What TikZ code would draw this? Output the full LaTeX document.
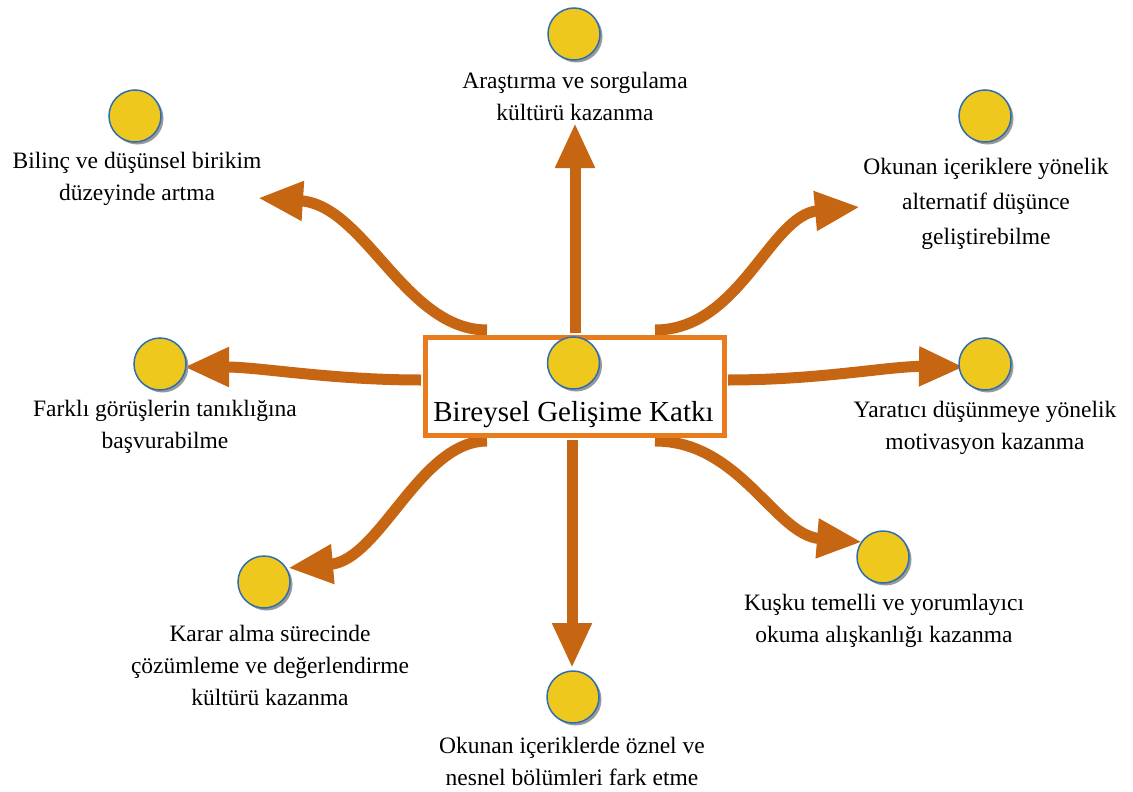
\documentclass[tikz,border=0pt]{standalone}
\usepackage{fontspec}
\setmainfont{LiberationSerif}[Extension=.ttf, UprightFont=*-Regular, BoldFont=*-Bold]
\usetikzlibrary{arrows.meta,calc}
\definecolor{arrowc}{RGB}{198,101,18}
\definecolor{boxc}{RGB}{232,123,30}
\definecolor{dotfill}{RGB}{238,200,28}
\definecolor{dotline}{RGB}{46,109,180}
\tikzset{
  dot/.style={circle, minimum size=52pt, inner sep=0pt, fill=dotfill, draw=dotline, line width=1.5pt},
  dotshadow/.style={circle, minimum size=52pt, inner sep=0pt, fill=black!40},
  lbl/.style={align=center, inner sep=0pt, font=\fontsize{23.5}{32}\selectfont},
  bigarrow/.style={draw=arrowc, line width=11pt, -{Triangle[length=45pt,width=37pt]}},
  mainbox/.style={draw=boxc, line width=5pt, fill=white, minimum width=298.5pt, minimum height=98.5pt, inner sep=0pt}
}
\newcommand{\mydot}[2]{%
  \node[dotshadow] at ($(#2)+(2.5,2.5)$) {};
  \node[dot] (#1) at (#2) {};}
\begin{document}
\begin{tikzpicture}[x=1pt,y=-1pt]
\useasboundingbox (0,0) rectangle (1133,792);
% central box
\node[mainbox] (box) at (574.75,386.25) {};
% coordinates for arrow ends
\coordinate (ulS) at (487,330);
\coordinate (ulE) at (258,198);
\coordinate (urS) at (655,330);
\coordinate (urE) at (860,207);
\coordinate (lS) at (421,380);
\coordinate (lE) at (184,367);
\coordinate (rS) at (728,380);
\coordinate (rE) at (964,367);
\coordinate (llS) at (487,441);
\coordinate (llE) at (288,568);
\coordinate (lrS) at (655,441);
\coordinate (lrE) at (862,542);
\coordinate (uE) at (575,123);
\coordinate (dE) at (572,668);
% arrows
\draw[bigarrow] (575,333) -- (uE);
\draw[bigarrow] (572,440) -- (dE);
\draw[bigarrow] (ulS) .. controls (405,330) and (365,205) .. (ulE);
\draw[bigarrow] (urS) .. controls (740,330) and (770,215) .. (urE);
\draw[bigarrow] (lS) .. controls (330,380) and (260,367) .. (lE);
\draw[bigarrow] (rS) .. controls (820,380) and (890,366) .. (rE);
\draw[bigarrow] (llS) .. controls (420,441) and (380,560) .. (llE);
\draw[bigarrow] (lrS) .. controls (740,441) and (775,535) .. (lrE);
% box redrawn on top
\node[mainbox] (box2) at (574.75,386.25) {};
\mydot{cc}{573.5,363}
\node[inner sep=0pt, anchor=base, font=\fontsize{29}{34}\selectfont] (title) at (573.5,421.5) {Bireysel Gelişime Katkı};
% circles
\mydot{c1}{574,34}
\mydot{c2}{135,116}
\mydot{c3}{985,116}
\mydot{c4}{160,364}
\mydot{c5}{985,364}
\mydot{c6}{264,582}
\mydot{c7}{883,557}
\mydot{c8}{573,697}
% labels
\node[lbl] (l1) at (575,96) {Araştırma ve sorgulama\\kültürü kazanma};
\node[lbl] (l2) at (137,179) {Bilinç ve düşünsel birikim\\düzeyinde artma};
\node[lbl, font=\fontsize{23.5}{35}\selectfont] (l3) at (986,204) {Okunan içeriklere yönelik\\alternatif düşünce\\geliştirebilme};
\node[lbl] (l4) at (165,427) {Farklı görüşlerin tanıklığına\\başvurabilme};
\node[lbl] (l5) at (985,428) {Yaratıcı düşünmeye yönelik\\motivasyon kazanma};
\node[lbl] (l6) at (270,665) {Karar alma sürecinde\\çözümleme ve değerlendirme\\kültürü kazanma};
\node[lbl] (l7) at (884,621) {Kuşku temelli ve yorumlayıcı\\okuma alışkanlığı kazanma};
\node[lbl] (l8) at (572,761) {Okunan içeriklerde öznel ve\\nesnel bölümleri fark etme};
\end{tikzpicture}
\end{document}
